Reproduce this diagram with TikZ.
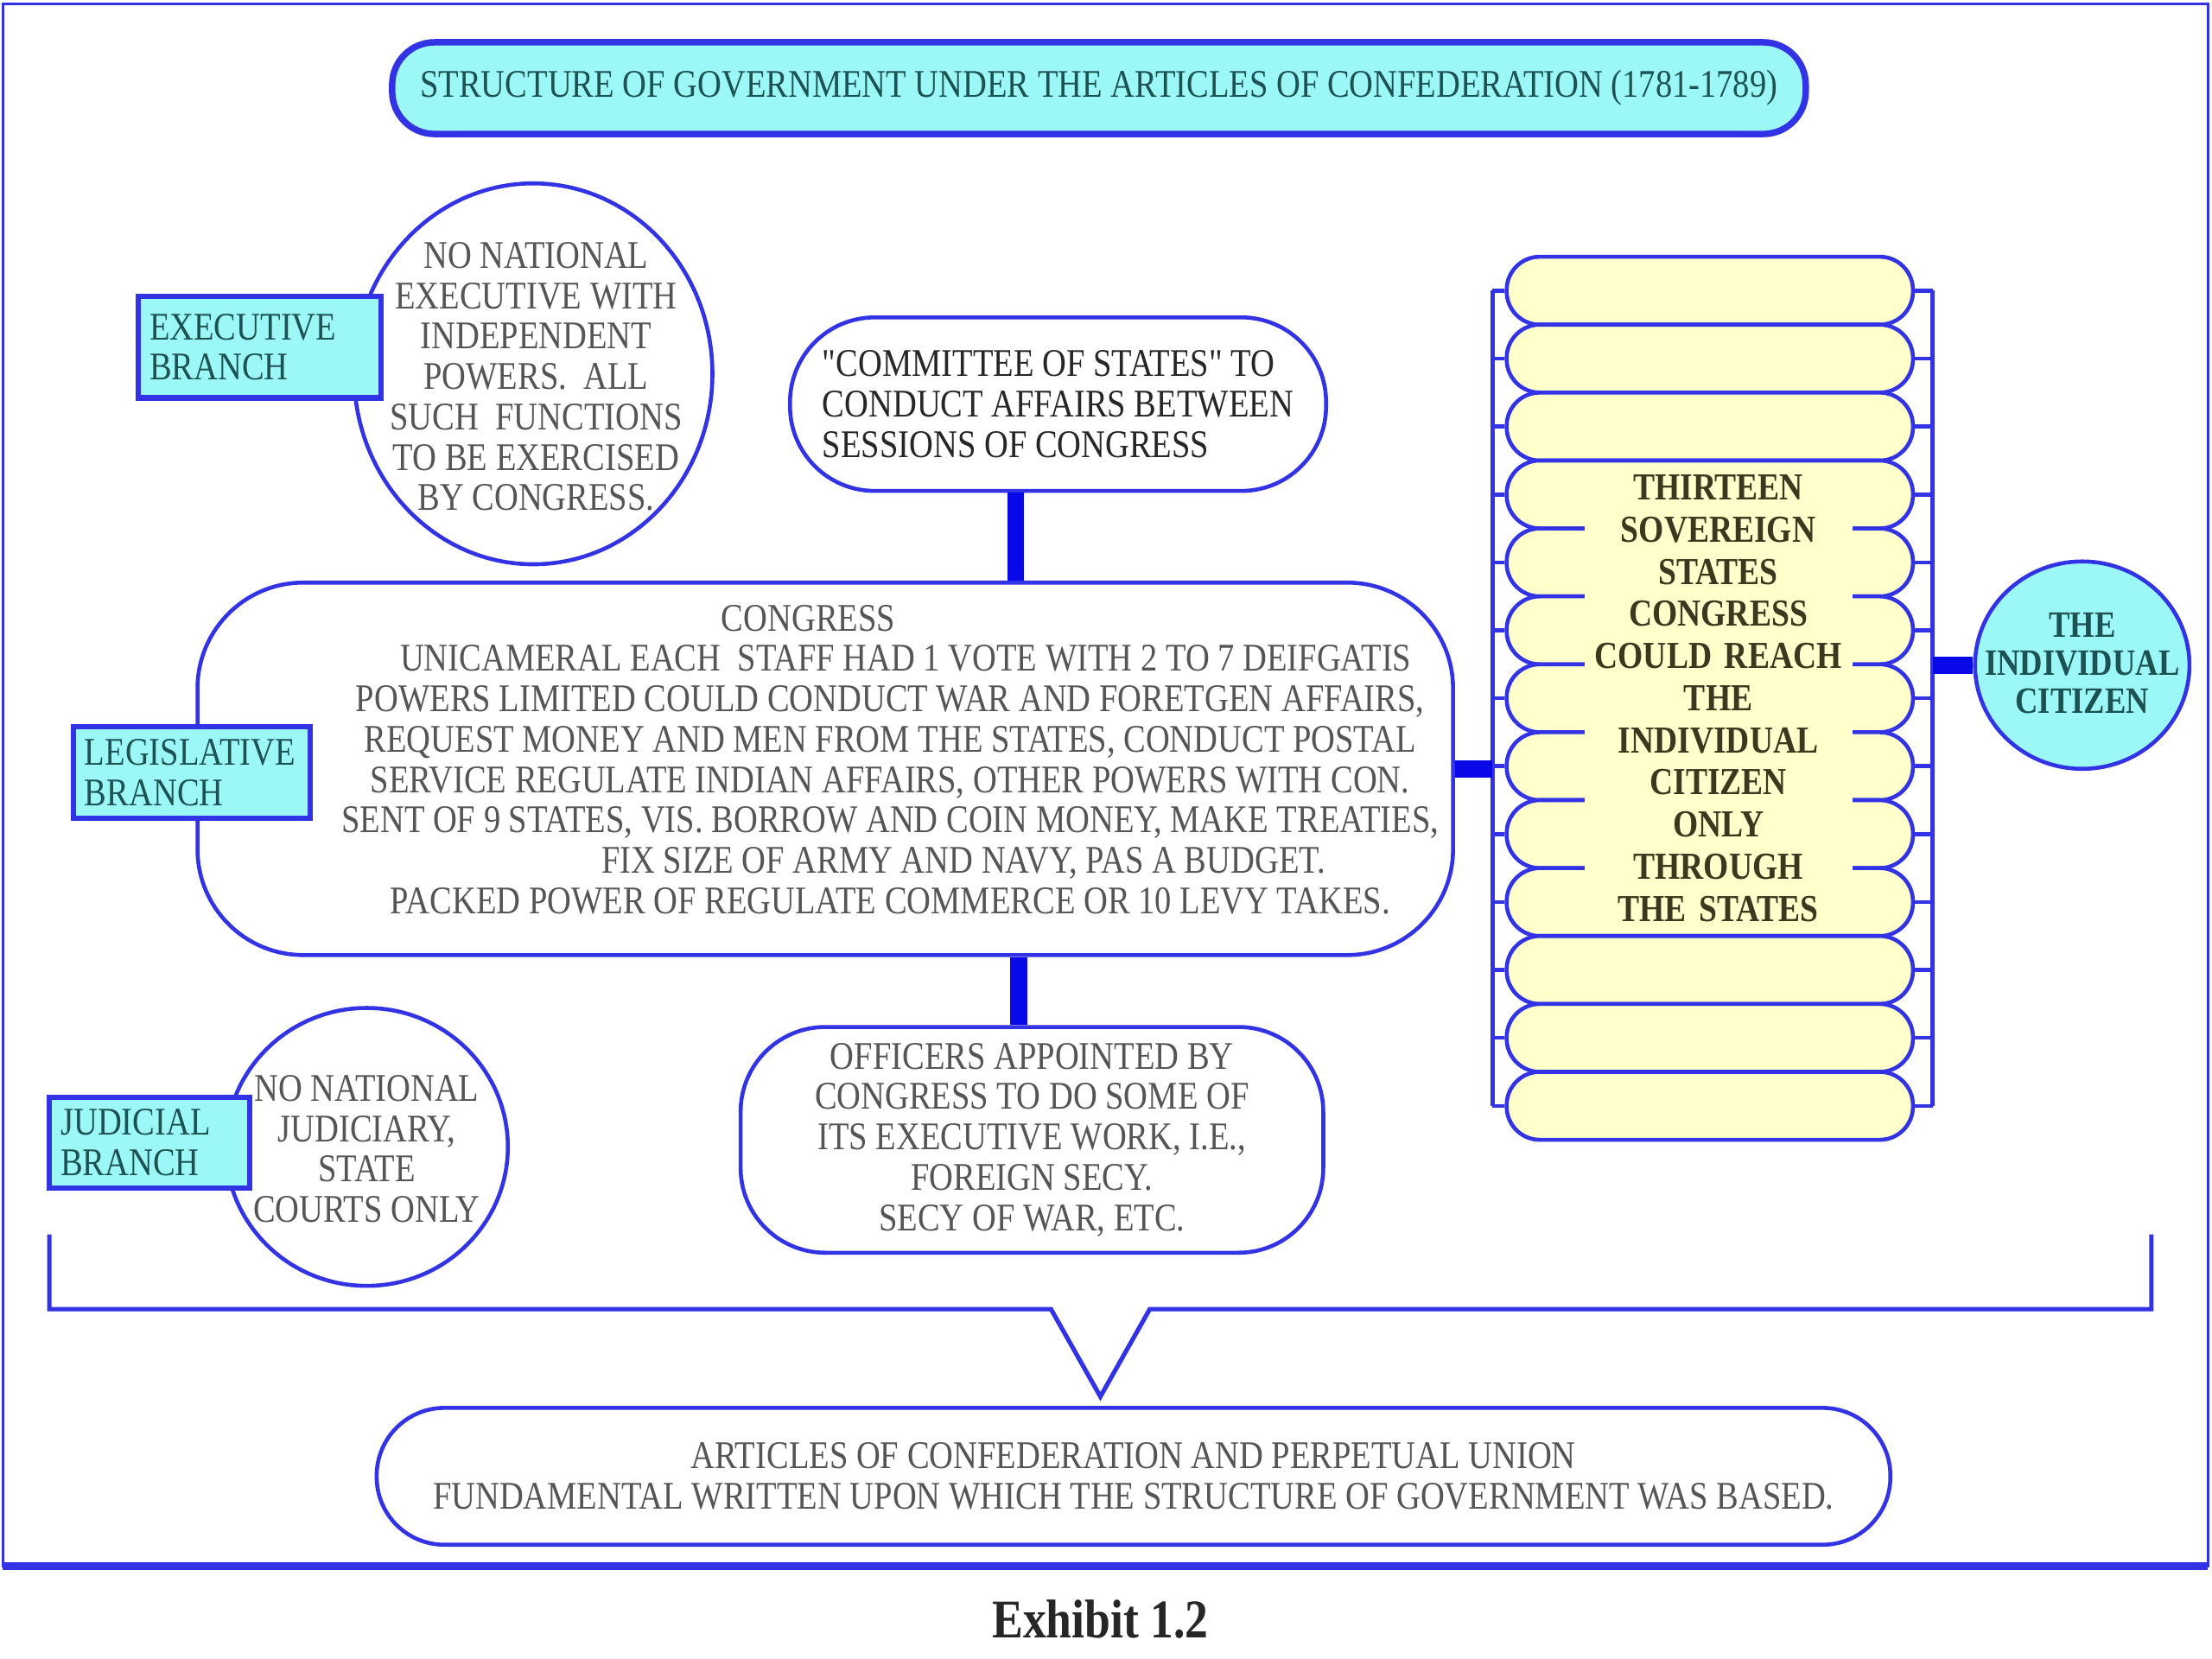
\documentclass[tikz,border=0pt]{standalone}
\usepackage{fontspec}
\setmainfont[FakeStretch=0.85]{Liberation Serif}
\newfontfamily\quotefont[FakeStretch=0.85]{Liberation Serif}
\usepackage{tikz}
\usetikzlibrary{shapes.geometric}
\definecolor{rimblue}{HTML}{3333E6}
\definecolor{barblue}{HTML}{0808E8}
\definecolor{cyanfill}{HTML}{9CF7F7}
\definecolor{statefill}{HTML}{FFFFCC}
\definecolor{tealtext}{HTML}{1D5252}
\definecolor{greytext}{HTML}{555555}
\definecolor{olivetext}{HTML}{3A381E}
\newcommand{\bodysize}{\fontsize{7.9pt}{8.15pt}\selectfont}
\newcommand{\statesize}{\fontsize{7.7pt}{8.5pt}\selectfont\bfseries}
\newcommand{\dq}{{\quotefont"}}
\tikzset{
  pill/.style={draw=rimblue,line width=0.8pt,fill=white,rounded corners=#1,inner sep=0pt,align=center,font=\bodysize,text=greytext},
  pill/.default=0.4cm,
  oval/.style={ellipse,draw=rimblue,line width=0.8pt,fill=white,inner sep=0pt},
  branch/.style={draw=rimblue,line width=1.1pt,fill=cyanfill,text=tealtext,align=left,font=\bodysize,inner xsep=0.08cm,inner ysep=0pt},
  txt/.style={align=center,inner sep=0pt,font=\bodysize,text=greytext},
  statepill/.style={draw=rimblue,line width=0.8pt,fill=statefill,rounded corners=0.235cm,minimum width=2.88cm,minimum height=0.4815cm,inner sep=0pt},
  bar/.style={draw=barblue,line width=3.4pt},
  rail/.style={draw=rimblue,line width=0.8pt},
}

\begin{document}
\begin{tikzpicture}
  \useasboundingbox (0,0) rectangle (15.68,-11.76);
  % outer frame
  \draw[rimblue,line width=0.5pt] (0.02,-0.03) rectangle (15.65,-11.10);
  \draw[rimblue,line width=1.6pt] (0.02,-11.10) -- (15.65,-11.10);

  \node[pill=0.3cm,fill=cyanfill,line width=1.3pt,minimum width=10.02cm,minimum height=0.65cm,text=tealtext] (title) at (7.79,-0.625) {STRUCTURE OF GOVERNMENT UNDER THE ARTICLES OF CONFEDERATION (1781-1789)};

  % executive
  \node[oval,minimum width=2.54cm,minimum height=2.70cm] (execoval) at (3.78,-2.65) {};
  \node[txt] (exectext) at (3.80,-2.67) {NO NATIONAL\\EXECUTIVE WITH\\INDEPENDENT\\POWERS.\ \ ALL\\SUCH\ \ FUNCTIONS\\TO BE EXERCISED\\BY CONGRESS.};
  \node[branch,text width=1.56cm,minimum height=0.72cm] (execbox) at (1.84,-2.46) {EXECUTIVE\\BRANCH};

  \node[pill=0.6cm,minimum width=3.80cm,minimum height=1.23cm,align=left,text=black!85] (committee) at (7.50,-2.865) {\dq COMMITTEE OF STATES\dq{} TO\\CONDUCT AFFAIRS BETWEEN\\SESSIONS OF CONGRESS};

  % legislative
  \node[pill=0.75cm,minimum width=8.90cm,minimum height=2.64cm] (congress) at (5.85,-5.45) {};
  \node[txt] (congresstext) at (6.31,-5.385) {CONGRESS\hspace*{1.16cm}\\
    \hspace*{0.22cm}UNICAMERAL EACH\ \ STAFF HAD 1 VOTE WITH 2 TO 7 DEIFGATIS\\
    POWERS LIMITED COULD CONDUCT WAR AND FORETGEN AFFAIRS,\\
    REQUEST MONEY AND MEN FROM THE STATES, CONDUCT POSTAL\\
    SERVICE REGULATE INDIAN AFFAIRS, OTHER POWERS WITH CON.\\
    SENT OF 9 STATES, VIS. BORROW AND COIN MONEY, MAKE TREATIES,\\
    \hspace*{1.04cm}FIX SIZE OF ARMY AND NAVY, PAS A BUDGET.\\
    PACKED POWER OF REGULATE COMMERCE OR 10 LEVY TAKES.};
  \node[branch,text width=1.52cm,minimum height=0.65cm] (legbox) at (1.36,-5.475) {LEGISLATIVE\\BRANCH};

  \node[pill=0.6cm,minimum width=4.13cm,minimum height=1.60cm] (officers) at (7.315,-8.08) {OFFICERS APPOINTED BY\\CONGRESS TO DO SOME OF\\ITS EXECUTIVE WORK, I.E.,\\FOREIGN SECY.\\SECY OF WAR, ETC.};

  % judicial
  \node[oval,minimum width=2.00cm,minimum height=1.97cm] (judoval) at (2.60,-8.13) {};
  \node[txt] (judtext) at (2.60,-8.145) {NO NATIONAL\\JUDICIARY,\\STATE\\COURTS ONLY};
  \node[branch,text width=1.26cm,minimum height=0.64cm] (judbox) at (1.06,-8.10) {JUDICIAL\\BRANCH};

  % thirteen states
  \foreach \i in {1,...,13}
    \node[statepill] (s\i) at (12.12,{-1.82-0.4815*(\i-0.5)}) {};
  \node[fill=statefill,inner sep=0pt,text width=1.90cm,minimum height=3.20cm,align=center,font=\statesize,text=olivetext] (statetext) at (12.18,-4.95) {THIRTEEN\\SOVEREIGN\\STATES\\CONGRESS\\COULD REACH\\THE\\INDIVIDUAL\\CITIZEN\\ONLY\\THROUGH\\THE STATES};
  \coordinate (railL) at (10.58,0);
  \coordinate (railR) at (13.70,0);
  \draw[rail] (s1.west -| railL) -- (s13.west -| railL);
  \draw[rail] (s1.east -| railR) -- (s13.east -| railR);
  \foreach \i in {1,...,13} {
    \draw[rail] (s\i.west) -- (s\i.west -| railL);
    \draw[rail] (s\i.east) -- (s\i.east -| railR);
  }

  \node[oval,fill=cyanfill,minimum width=1.52cm,minimum height=1.47cm] (citizen) at (14.76,-4.715) {};
  \node[txt,text=tealtext,font=\fontsize{7.5pt}{7.7pt}\selectfont\bfseries] (citizentext) at (14.76,-4.70) {THE\\INDIVIDUAL\\CITIZEN};

  % connectors
  \draw[bar] ([xshift=-3mm]committee.south) -- ([xshift=-3mm]committee.south |- congress.north);
  \draw[bar] ([xshift=-0.95mm]officers.north) -- ([xshift=-0.95mm]officers.north |- congress.south);
  \draw[bar] (congress.east) -- (congress.east -| railL);
  \draw[bar] (citizen.west) -- (citizen.west -| railR);

  % base
  \node[pill=0.48cm,minimum width=10.73cm,minimum height=0.97cm] (articles) at (8.035,-10.465) {ARTICLES OF CONFEDERATION AND PERPETUAL UNION\\FUNDAMENTAL WRITTEN UPON WHICH THE STRUCTURE OF GOVERNMENT WAS BASED.};
  \coordinate (apex) at (7.80,-9.90);
  \draw[rail,line width=0.9pt] (0.35,-8.75) |- (7.45,-9.28) -- (apex) -- (8.15,-9.28) -| (15.25,-8.75);

  \node[font=\fontsize{11pt}{13pt}\selectfont\bfseries,text=black!85] (exhibit) at (7.80,-11.48) {Exhibit 1.2};
\end{tikzpicture}
\end{document}
